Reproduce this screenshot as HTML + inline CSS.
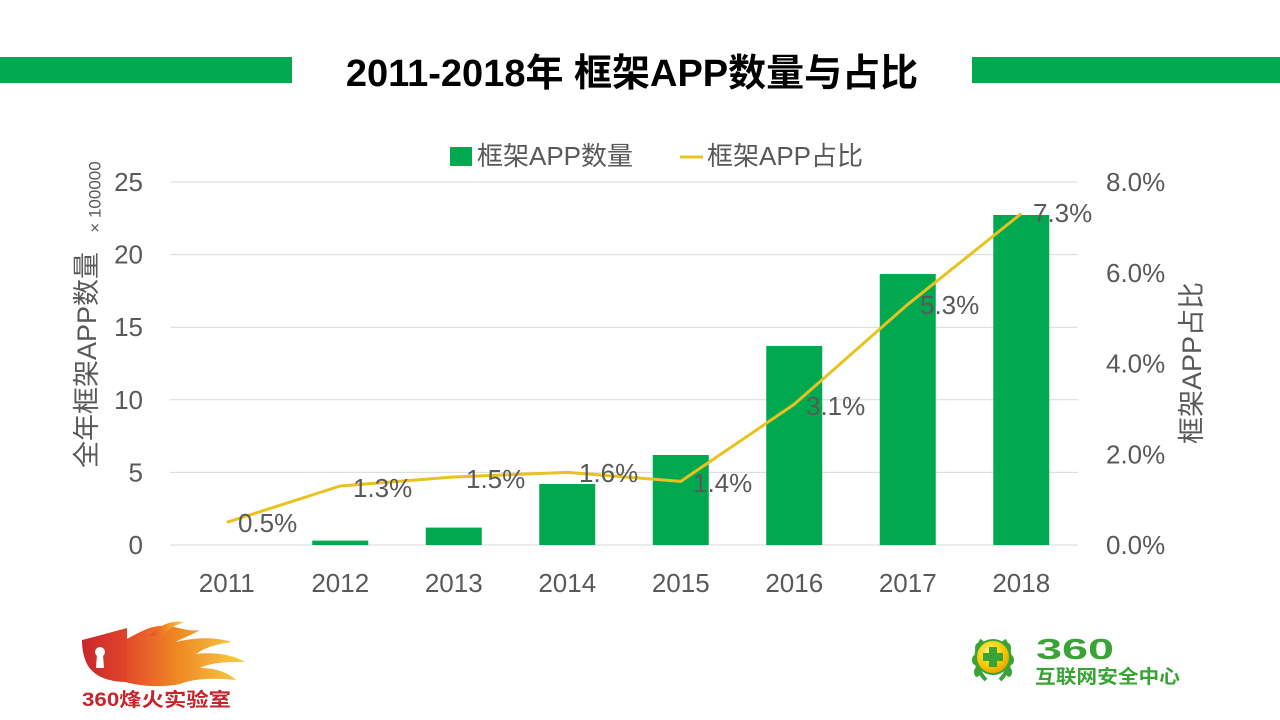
<!DOCTYPE html>
<html>
<head>
<meta charset="utf-8">
<style>
html,body{margin:0;padding:0;background:#fff;}
body{width:1280px;height:720px;overflow:hidden;}
svg{display:block;font-family:"Liberation Sans","Noto Sans CJK SC",sans-serif;}
</style>
</head>
<body>
<svg width="1280" height="720" viewBox="0 0 1280 720" xmlns="http://www.w3.org/2000/svg">
  <defs>
    <linearGradient id="shieldG" x1="0" y1="0" x2="1" y2="0">
      <stop offset="0" stop-color="#c9262c"/>
      <stop offset="1" stop-color="#e0452a"/>
    </linearGradient>
    <linearGradient id="flameG" x1="0" y1="0" x2="1" y2="0">
      <stop offset="0" stop-color="#e2482a"/>
      <stop offset="0.45" stop-color="#f08a24"/>
      <stop offset="1" stop-color="#f7cf45"/>
    </linearGradient>
    <radialGradient id="ballG" cx="0.4" cy="0.35" r="0.7">
      <stop offset="0" stop-color="#fff27a"/>
      <stop offset="0.6" stop-color="#f6c800"/>
      <stop offset="1" stop-color="#e39b00"/>
    </radialGradient>
  </defs>

  <!-- Title bars -->
  <rect x="0" y="57" width="292" height="26" fill="#00a94f"/>
  <rect x="972" y="57" width="308" height="26" fill="#00a94f"/>
  <text x="632" y="86" text-anchor="middle" font-size="38" font-weight="bold" fill="#000">2011-2018年 框架APP数量与占比</text>

  <!-- Legend -->
  <rect x="450" y="147" width="22" height="19" fill="#00a94f"/>
  <text x="477" y="165" font-size="26" fill="#595959">框架APP数量</text>
  <line x1="680" y1="157" x2="703" y2="157" stroke="#e8c21e" stroke-width="3"/>
  <text x="707" y="165" font-size="26" fill="#595959">框架APP占比</text>

  <!-- Gridlines -->
  <g stroke="#d9d9d9" stroke-width="1">
    <line x1="170" y1="182" x2="1078" y2="182"/>
    <line x1="170" y1="254.6" x2="1078" y2="254.6"/>
    <line x1="170" y1="327.2" x2="1078" y2="327.2"/>
    <line x1="170" y1="399.8" x2="1078" y2="399.8"/>
    <line x1="170" y1="472.4" x2="1078" y2="472.4"/>
    <line x1="170" y1="545" x2="1078" y2="545"/>
  </g>

  <!-- Left ticks -->
  <g font-size="26" fill="#595959" text-anchor="end">
    <text x="143" y="191">25</text>
    <text x="143" y="263.6">20</text>
    <text x="143" y="336.2">15</text>
    <text x="143" y="408.8">10</text>
    <text x="143" y="481.4">5</text>
    <text x="143" y="554">0</text>
  </g>
  <!-- Right ticks -->
  <g font-size="26" fill="#595959" text-anchor="start">
    <text x="1106" y="191">8.0%</text>
    <text x="1106" y="281.8">6.0%</text>
    <text x="1106" y="372.5">4.0%</text>
    <text x="1106" y="463.3">2.0%</text>
    <text x="1106" y="554">0.0%</text>
  </g>
  <!-- X labels -->
  <g font-size="26" fill="#595959" text-anchor="middle">
    <text x="226.75" y="592">2011</text>
    <text x="340.25" y="592">2012</text>
    <text x="453.75" y="592">2013</text>
    <text x="567.25" y="592">2014</text>
    <text x="680.75" y="592">2015</text>
    <text x="794.25" y="592">2016</text>
    <text x="907.75" y="592">2017</text>
    <text x="1021.25" y="592">2018</text>
  </g>

  <!-- Axis titles -->
  <text transform="translate(87,360) rotate(-90)" text-anchor="middle" dominant-baseline="central" font-size="27" fill="#595959">全年框架APP数量</text>
  <text transform="translate(95,197) rotate(-90)" text-anchor="middle" dominant-baseline="central" font-size="17" fill="#595959">× 100000</text>
  <text transform="translate(1192,363) rotate(-90)" text-anchor="middle" dominant-baseline="central" font-size="27" fill="#595959">框架APP占比</text>

  <!-- Bars -->
  <g fill="#00a94f">
    <rect x="312.25" y="540.6" width="56" height="4.4"/>
    <rect x="425.75" y="527.6" width="56" height="17.4"/>
    <rect x="539.25" y="484" width="56" height="61"/>
    <rect x="652.75" y="455" width="56" height="90"/>
    <rect x="766.25" y="346" width="56" height="199"/>
    <rect x="879.75" y="274" width="56" height="271"/>
    <rect x="993.25" y="215" width="56" height="330"/>
  </g>

  <!-- Line -->
  <polyline fill="none" stroke="#e8c21e" stroke-width="3" stroke-linejoin="round"
    points="226.75,522.3 340.25,486 453.75,477 567.25,472.4 680.75,481.4 794.25,404.3 907.75,304.4 1021.25,213.6"/>

  <!-- Data labels -->
  <g font-size="26" fill="#595959">
    <text x="238" y="532">0.5%</text>
    <text x="353" y="497">1.3%</text>
    <text x="466" y="488">1.5%</text>
    <text x="579" y="482">1.6%</text>
    <text x="693" y="492">1.4%</text>
    <text x="806" y="415">3.1%</text>
    <text x="920" y="314">5.3%</text>
    <text x="1033" y="222">7.3%</text>
  </g>

  <!-- Left logo: 360 烽火实验室 -->
  <g>
    <path d="M125 640 C140 632 152 624 168 626 C182 628 190 632 200 630 C190 636 182 638 176 642 C192 638 212 636 232 642 C216 644 204 648 196 654 C212 652 232 654 245 662 C228 662 212 662 200 668 C214 668 228 672 236 680 C216 678 196 678 180 684 C160 688 140 686 125 682 Z" fill="url(#flameG)"/>
    <path d="M150 636 C158 626 170 620 184 622 C174 626 166 630 162 636 Z" fill="url(#flameG)"/>
    <path d="M82 640 C98 636 112 632 127 628 L127 682 C108 682 92 676 86 662 C83 654 82 648 82 640 Z" fill="url(#shieldG)"/>
    <circle cx="100" cy="652" r="5" fill="#fff"/>
    <path d="M97 654 L103 654 L104 668 L96 668 Z" fill="#fff"/>
    <text x="82" y="706" font-size="19" font-weight="bold" fill="#c8242b" textLength="149" lengthAdjust="spacingAndGlyphs">360烽火实验室</text>
  </g>

  <!-- Right logo: 360 互联网安全中心 -->
  <g>
    <path d="M982 640 C974 652 974 668 986 680" fill="none" stroke="#3aa335" stroke-width="4"/>
    <path d="M1004 640 C1012 652 1012 668 1000 680" fill="none" stroke="#3aa335" stroke-width="4"/>
    <g fill="#3aa335">
      <ellipse cx="978" cy="648" rx="3" ry="5"/>
      <ellipse cx="975" cy="660" rx="3" ry="5"/>
      <ellipse cx="977" cy="672" rx="3" ry="5"/>
      <ellipse cx="1008" cy="648" rx="3" ry="5"/>
      <ellipse cx="1011" cy="660" rx="3" ry="5"/>
      <ellipse cx="1009" cy="672" rx="3" ry="5"/>
    </g>
    <circle cx="993" cy="657" r="17" fill="url(#ballG)" stroke="#3aa335" stroke-width="2"/>
    <path d="M989 647 H997 V653 H1003 V661 H997 V667 H989 V661 H983 V653 H989 Z" fill="#3aa335"/>
    <text x="1036" y="659" font-size="29" font-weight="bold" fill="#3aa335" textLength="78" lengthAdjust="spacingAndGlyphs">360</text>
    <text x="1035" y="683" font-size="19" font-weight="bold" fill="#3aa335" textLength="145" lengthAdjust="spacingAndGlyphs">互联网安全中心</text>
  </g>
</svg>
</body>
</html>
